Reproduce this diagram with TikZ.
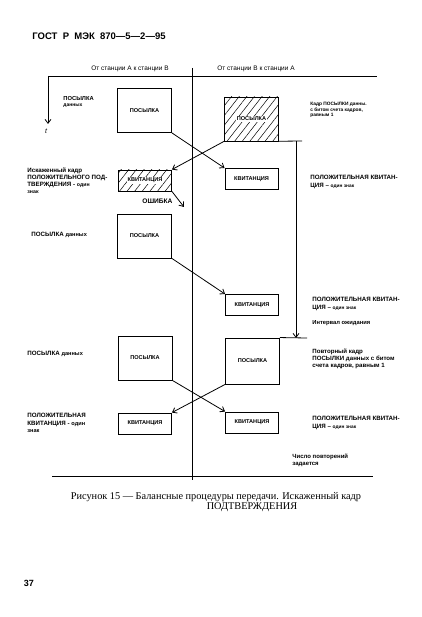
\documentclass[tikz,border=0pt]{standalone}
\usepackage{fontspec}
\setmainfont{Liberation Sans}
\newfontfamily\capfont{Liberation Serif}
\usetikzlibrary{arrows.meta, patterns.meta}

\begin{document}
\begin{tikzpicture}[x=1pt, y=-1pt, line width=0.8pt,
    frame/.style = {draw, line width=0.9pt, inner sep=0pt, font=\fontsize{5.6}{6}\selectfont\bfseries},
    big/.style = {frame, minimum width=54pt, minimum height=44pt},
    small/.style = {frame, minimum width=53pt, minimum height=21pt},
    hatch/.style = {pattern={Lines[angle=52, distance=6pt, line width=0.5pt]}},
    tag/.style = {fill=white, inner sep=1pt, font=\fontsize{5.6}{6}\selectfont\bfseries},
    lbl/.style = {anchor=north west, align=left, inner sep=0pt, font=\fontsize{6.2}{7.3}\selectfont\bfseries},
    >={Straight Barb[length=4pt, width=6pt]}]
    \useasboundingbox (0,0) rectangle (422,617);

    \node (head) [anchor=west, inner sep=0pt, font=\fontsize{9.5}{10}\selectfont\bfseries] at (32,36) {ГОСТ\ \ Р\ \ МЭК\ \ 870—5—2—95};
    \node (AB) [font=\fontsize{6.5}{7}\selectfont] at (130,69) {От станции А к станции В};
    \node (BA) [font=\fontsize{6.5}{7}\selectfont] at (256,69) {От станции В к станции А};

    % axes
    \coordinate (L) at (48,76);
    \coordinate (R) at (377,76);
    \coordinate (T) at (48,124);
    \coordinate (Ctop) at (192,68);
    \coordinate (Cbot) at (192,480);
    \coordinate (BL) at (52,476);
    \coordinate (BR) at (373,476);
    \draw (L) -- (R);
    \draw (Ctop) -- (Cbot);
    \draw (BL) -- (BR);
    \draw[->] (L) -- (T);
    \node (t) [font=\fontsize{7}{8}\selectfont\itshape] at (46,131) {t};

    % frames
    \node[big] (P1) at (144.5,110.5) {ПОСЫЛКА};
    \node[big, hatch, label={[tag]center:ПОСЫЛКА}] (H1) at (251.5,119) {};
    \node[small, hatch, label={[tag]center:КВИТАНЦИЯ}] (K1) at (145,180.5) {};
    \node[small] (K2) at (251.5,179) {КВИТАНЦИЯ};
    \node[big] (P2) at (144.5,236) {ПОСЫЛКА};
    \node[small] (K3) at (252,305) {КВИТАНЦИЯ};
    \node[big, minimum height=46pt] (P3) at (252.5,361) {ПОСЫЛКА};
    \node[big] (P4) at (145,358) {ПОСЫЛКА};
    \node[small] (K4) at (252,422.5) {КВИТАНЦИЯ};
    \node[small] (K5) at (145,423.5) {КВИТАНЦИЯ};

    \path[->] (P1.south east) edge (K2.north west);
    \path[->] (H1.south west) edge (K1.north east);
    \path[->] (P2.south east) edge (K3.north west);
    \path[->] (P4.south east) edge (K4.north west);
    \path[->] (P3.south west) edge (K5.north east);

    \coordinate (err) at (184,207);
    \draw[->] (K1.south east) -- (err);
    \node (E) [lbl, anchor=west, font=\fontsize{6.6}{7}\selectfont\bfseries] at (142,201) {ОШИБКА};

    % wait interval
    \coordinate (H1end) at (302,141);
    \coordinate (Wtop) at (296,141);
    \coordinate (Wbot) at (296,338);
    \coordinate (P3end) at (307,338);
    \draw (H1.south east) -- (H1end);
    \draw[->] (Wtop) -- (Wbot);
    \draw (P3.north east) -- (P3end);

    % left texts
    \node (l1) [lbl, font=\fontsize{5.8}{6.5}\selectfont\bfseries] at (63,96) {ПОСЫЛКА\\{\fontsize{5}{5}\selectfont данных}};
    \node (l2) [lbl] at (27,167) {Искаженный кадр\\ПОЛОЖИТЕЛЬНОГО ПОД-\\ТВЕРЖДЕНИЯ - {\fontsize{5.2}{5}\selectfont один}\\{\fontsize{5.2}{5}\selectfont знак}};
    \node (l3) [lbl, anchor=west] at (31,235) {ПОСЫЛКА {\fontsize{5.6}{5}\selectfont данных}};
    \node (l4) [lbl, anchor=west] at (27,354) {ПОСЫЛКА {\fontsize{5.6}{5}\selectfont данных}};
    \node (l5) [lbl] at (27,413) {ПОЛОЖИТЕЛЬНАЯ\\КВИТАНЦИЯ - {\fontsize{5.6}{5}\selectfont один}\\{\fontsize{5.6}{5}\selectfont знак}};

    % right texts
    \node (r1) [lbl, font=\fontsize{4.8}{5.6}\selectfont\bfseries] at (310,102) {Кадр ПОСЫЛКИ данны.\\с битом счета кадров,\\равным 1};
    \node (r2) [lbl] at (310,175) {ПОЛОЖИТЕЛЬНАЯ КВИТАН-\\ЦИЯ -- {\fontsize{4.8}{5}\selectfont один знак}};
    \node (r3) [lbl] at (312,297) {ПОЛОЖИТЕЛЬНАЯ КВИТАН-\\ЦИЯ -- {\fontsize{4.8}{5}\selectfont один знак}};
    \node (r4) [lbl, font=\fontsize{5.8}{6}\selectfont\bfseries] at (312,320) {Интервал ожидания};
    \node (r5) [lbl, font=\fontsize{6.1}{7}\selectfont\bfseries] at (312,349) {Повторный кадр\\ПОСЫЛКИ данных с битом\\счета кадров, равным 1};
    \node (r6) [lbl] at (312,416) {ПОЛОЖИТЕЛЬНАЯ КВИТАН-\\ЦИЯ -- {\fontsize{4.8}{5}\selectfont один знак}};
    \node (r7) [lbl, font=\fontsize{6}{6.5}\selectfont\bfseries] at (292,454) {Число повторений\\задается};

    % caption
    \node (cap1) [font=\capfont\fontsize{10.3}{11}\selectfont] at (216,497) {Рисунок 15 — Балансные процедуры передачи. Искаженный кадр};
    \node (cap2) [font=\capfont\fontsize{10.3}{11}\selectfont] at (252,507) {ПОДТВЕРЖДЕНИЯ};
    \node (page) [font=\fontsize{9}{10}\selectfont\bfseries] at (29,583) {37};
\end{tikzpicture}
\end{document}
